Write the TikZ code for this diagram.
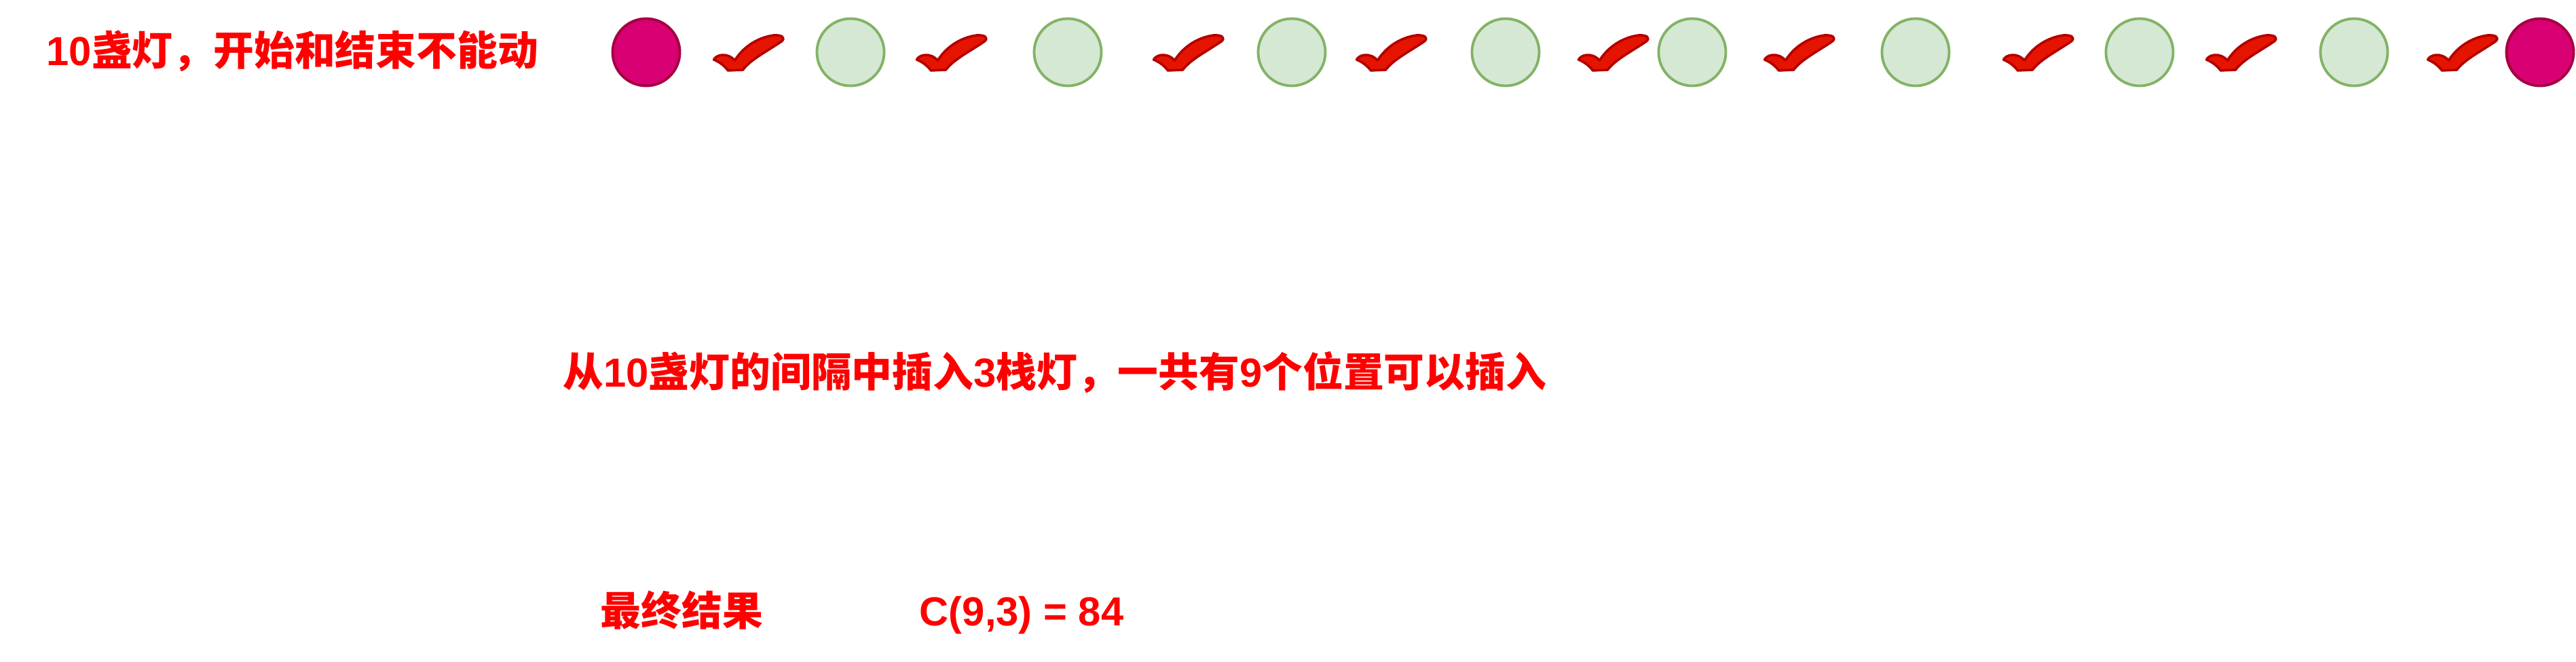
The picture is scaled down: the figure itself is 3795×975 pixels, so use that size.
\documentclass[tikz,border=0pt]{standalone}
\usepackage{fontspec}
\setmainfont{Liberation Sans}
\newfontfamily\cjk{Noto Sans CJK SC}
\definecolor{GreenFill}{HTML}{D5E8D4}
\definecolor{GreenLine}{HTML}{82B366}
\definecolor{EndFill}{HTML}{D80073}
\definecolor{EndLine}{HTML}{A50040}
\definecolor{TickFill}{HTML}{E51400}
\definecolor{TickLine}{HTML}{B20000}
\begin{document}
\begin{tikzpicture}[
  x=0.01cm, y=-0.01cm,
  lamp/.style={
    circle, minimum size=0.99cm, inner sep=0pt, line width=1.1pt,
  },
  Glamp/.style={lamp, draw=GreenLine, fill=GreenFill},
  Elamp/.style={lamp, draw=EndLine,   fill=EndFill},
  note/.style={
    font=\fontsize{17}{20}\selectfont\bfseries, text=red,
    inner sep=0pt, anchor=base west,
  },
  okmark/.pic={
    \draw[TickLine, fill=TickFill, line width=1pt, line join=round,
          shift={(-51.5,-26)}]
      (0,36) .. controls (3,29) and (19,24) .. (31,37)
      .. controls (44,16) and (66,3) .. (88,0)
      .. controls (101,-1) and (106,4) .. (100,9)
      .. controls (78,24) and (54,36) .. (43,51)
      -- (21,52)
      .. controls (14,43) and (7,39) .. cycle;
  },
]

\useasboundingbox (0,0) rectangle (3795,975);

% ── title ────────────────────────────────────────────────
\node[note] (title) at (68,96) {10{\cjk 盏灯，开始和结束不能动}};

% ── lamps: first and last are fixed ──────────────────────
\node[Elamp] (l0) at (952,77) {};
\foreach \i/\x in {1/1253, 2/1573, 3/1903, 4/2218, 5/2493, 6/2822, 7/3152, 8/3468}
  \node[Glamp] (l\i) at (\x,77) {};
\node[Elamp] (l9) at (3742,77) {};

% ── the 9 gaps ───────────────────────────────────────────
\foreach \x in {1103, 1402, 1751, 2050, 2377, 2651, 3003, 3302, 3628}
  \pic at (\x,78) {okmark};

% ── explanation ──────────────────────────────────────────
\node[note] (gaps) at (829,570)
  {{\cjk 从}10{\cjk 盏灯的间隔中插入}3{\cjk 栈灯，一共有}9{\cjk 个位置可以插入}};

% ── result ───────────────────────────────────────────────
\node[note] (final) at (884,922) {\cjk 最终结果};
\node[note] (count) at (1354,922) {C(9,3) = 84};

\end{tikzpicture}
\end{document}
